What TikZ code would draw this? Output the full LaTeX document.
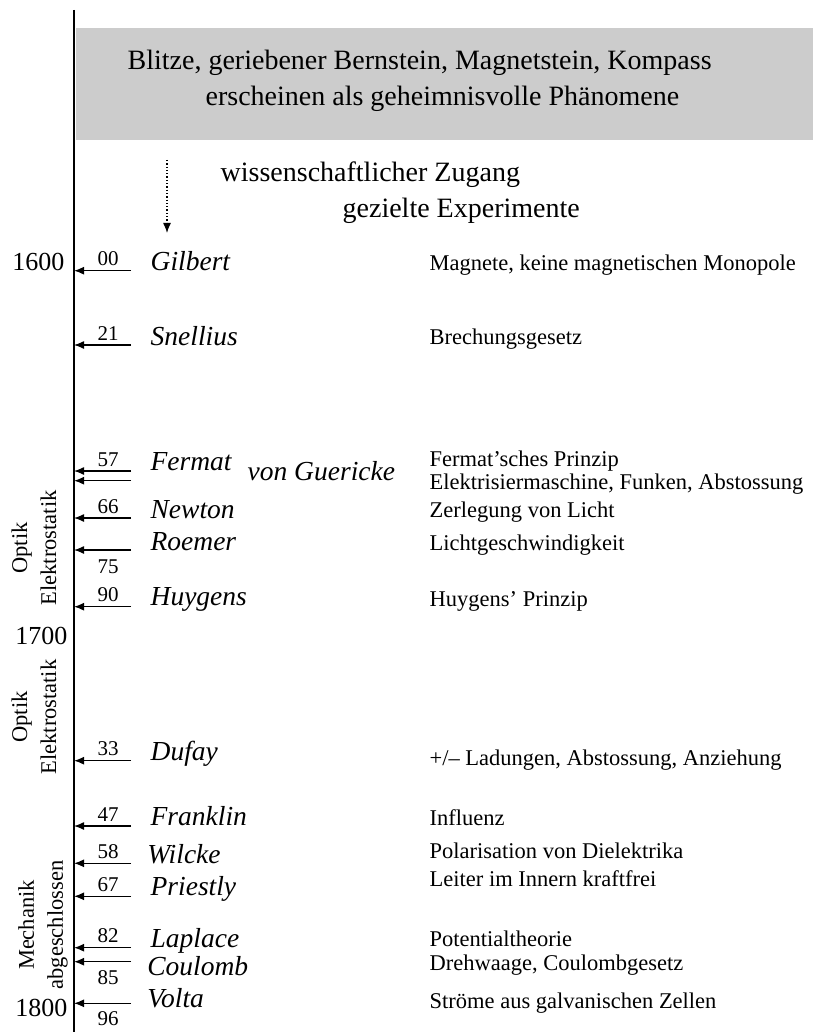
\documentclass[tikz,border=0pt]{standalone}
\usepackage{fontspec}
\setmainfont{Liberation Serif}
\usepackage{tikz}
\usetikzlibrary{arrows.meta}

\definecolor{boxgray}{gray}{0.8}

\begin{document}
\begin{tikzpicture}[x=1pt, y=-1pt, >={Latex[length=10pt,width=8pt]}, line width=1.3pt,
    head/.style={anchor=base west, inner sep=0pt, font=\fontsize{28}{32}\selectfont},
    year/.style={anchor=base east, inner sep=0pt, font=\fontsize{26}{30}\selectfont},
    num/.style={anchor=base, inner sep=0pt, font=\fontsize{21}{24}\selectfont},
    who/.style={anchor=base west, inner sep=0pt, font=\fontsize{27.5}{30}\selectfont\itshape},
    what/.style={anchor=base west, inner sep=0pt, font=\fontsize{22.5}{26}\selectfont},
    field/.style={rotate=90, align=center, inner sep=0pt, font=\fontsize{22.5}{29}\selectfont}]
    \useasboundingbox (0,0) rectangle (812,1032);

    % time axis
    \coordinate (top) at (74,10);
    \coordinate (axis) at (74,1032);
    \draw[line width=1.2pt] (top) -- (axis);

    % myths
    \node[fill=boxgray, minimum width=737, minimum height=112, anchor=north west, inner sep=0pt]
        (myth) at (75,27) {};
    \node[head] (myth1) at (127,70) {Blitze, geriebener Bernstein, Magnetstein, Kompass};
    \node[head] (myth2) at (205,106) {erscheinen als geheimnisvolle Phänomene};

    \coordinate (z0) at (167,160);
    \coordinate (z1) at (167,233);
    \draw[->, dotted] (z0) -- (z1);
    \node[head] (sci1) at (220,182) {wissenschaftlicher Zugang};
    \node[head] (sci2) at (342,218) {gezielte Experimente};

    % years
    \node[year] (y1600) at (65,270.7) {1600};
    \node[year] (y1700) at (68,644) {1700};
    \node[year] (y1800) at (68,1016.7) {1800};

    % fields
    \node[field] (f1) at (34,548) {Optik\\Elektrostatik};
    \node[field] (f2) at (34,717) {Optik\\Elektrostatik};
    \node[field] (f3) at (43,925) {Mechanik\\abgeschlossen};

    % 17th century
    \coordinate (a00) at (131,270.7);
    \node[num] (n00) at (108,265.7) {00};
    \node[who] (gilbert) at (150,270.7) {Gilbert};
    \node[what] (d00) at (429,270.7) {Magnete, keine magnetischen Monopole};
    \draw[->] (a00) -- (a00 -| axis);

    \coordinate (a21) at (131,345);
    \node[num] (n21) at (108,340.3) {21};
    \node[who] (snellius) at (150,345.3) {Snellius};
    \node[what] (d21) at (429,344) {Brechungsgesetz};
    \draw[->] (a21) -- (a21 -| axis);

    \coordinate (a57) at (131,471);
    \coordinate (a57b) at (131,480.7);
    \node[num] (n57) at (108,466.3) {57};
    \node[who] (fermat) at (150,470.7) {Fermat};
    \node[who] (guericke) at (247,480) {von Guericke};
    \node[what] (d57) at (429,466.7) {Fermat'sches Prinzip};
    \node[what] (d57b) at (429,489.3) {Elektrisiermaschine, Funken, Abstossung};
    \draw[->] (a57) -- (a57 -| axis);
    \draw[->] (a57b) -- (a57b -| axis);

    \coordinate (a66) at (131,518);
    \node[num] (n66) at (108,513) {66};
    \node[who] (newton) at (150,518) {Newton};
    \node[what] (d66) at (429,517.3) {Zerlegung von Licht};
    \draw[->] (a66) -- (a66 -| axis);

    \coordinate (a75) at (131,550);
    \node[num] (n75) at (108,573) {75};
    \node[who] (roemer) at (150,550) {Roemer};
    \node[what] (d75) at (429,550.7) {Lichtgeschwindigkeit};
    \draw[->] (a75) -- (a75 -| axis);

    \coordinate (a90) at (131,606.7);
    \node[num] (n90) at (108,601.7) {90};
    \node[who] (huygens) at (150,605.7) {Huygens};
    \node[what] (d90) at (429,606) {Huygens' Prinzip};
    \draw[->] (a90) -- (a90 -| axis);

    % 18th century
    \coordinate (a33) at (131,760.7);
    \node[num] (n33) at (108,755.7) {33};
    \node[who] (dufay) at (150,760.7) {Dufay};
    \node[what] (d33) at (429,765) {+/-- Ladungen, Abstossung, Anziehung};
    \draw[->] (a33) -- (a33 -| axis);

    \coordinate (a47) at (131,826);
    \node[num] (n47) at (108,821) {47};
    \node[who] (franklin) at (150,825.7) {Franklin};
    \node[what] (d47) at (429,825) {Influenz};
    \draw[->] (a47) -- (a47 -| axis);

    \coordinate (a58) at (131,863.3);
    \node[num] (n58) at (108,858.3) {58};
    \node[who] (wilcke) at (146.7,863) {Wilcke};
    \node[what] (d58) at (429,858.3) {Polarisation von Dielektrika};
    \draw[->] (a58) -- (a58 -| axis);

    \coordinate (a67) at (131,896.3);
    \node[num] (n67) at (108,891.3) {67};
    \node[who] (priestly) at (150,895.7) {Priestly};
    \node[what] (d67) at (429,886) {Leiter im Innern kraftfrei};
    \draw[->] (a67) -- (a67 -| axis);

    \coordinate (a82) at (131,947.7);
    \node[num] (n82) at (108,942.7) {82};
    \node[who] (laplace) at (150,947.7) {Laplace};
    \node[what] (d82) at (429,946.7) {Potentialtheorie};
    \draw[->] (a82) -- (a82 -| axis);

    \coordinate (a85) at (131,961.7);
    \node[num] (n85) at (108,984) {85};
    \node[who] (coulomb) at (146.7,975.7) {Coulomb};
    \node[what] (d85) at (429,970) {Drehwaage, Coulombgesetz};
    \draw[->] (a85) -- (a85 -| axis);

    \coordinate (a96) at (131,1003.3);
    \node[num] (n96) at (108,1025.7) {96};
    \node[who] (volta) at (146.7,1007.3) {Volta};
    \node[what] (d96) at (429,1008.3) {Ströme aus galvanischen Zellen};
    \draw[->] (a96) -- (a96 -| axis);
\end{tikzpicture}
\end{document}
